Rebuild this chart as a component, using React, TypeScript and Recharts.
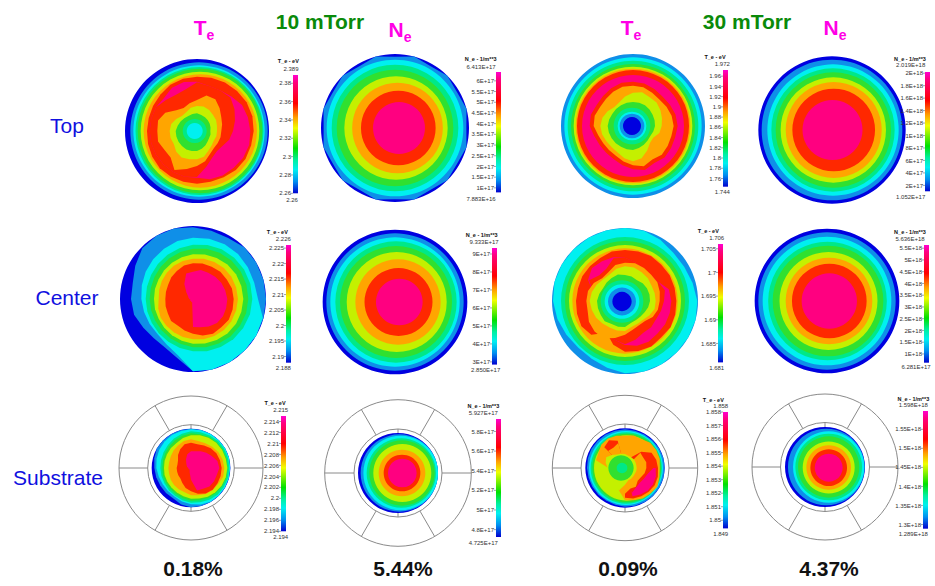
import { BarChart, Bar, XAxis, YAxis, Pie, PieChart, PolarAngleAxis, PolarGrid, PolarRadiusAxis, Radar, RadarChart } from 'recharts';

// contour colours, lowest level first
const LEVELS = ['#0000e0', '#0f8fe8', '#00f0f0', '#00e888', '#30e030', '#c4f000', '#ffa500', '#ff2800', '#ff0080'];
const NAVY = 0, AZURE = 1, CYAN = 2, SPRING = 3, GREEN = 4, LIME = 5, ORANGE = 6, RED = 7, PINK = 8;

const ANGLES = [0, 15, 30, 45, 60, 75, 90, 105, 120, 135, 150, 165, 180, 195, 210, 225, 240, 255, 270, 285, 300, 315, 330, 345];

// Top, 10 mTorr, Te
const topTe10Rings = [216, 206, 197, 192, 187, 178, 170];
const topTe10Red = [163, 165, 168, 170, 172, 172, 170, 168, 168, 165, 160, 158, 158, 158, 158, 158, 155, 152, 150, 150, 152, 155, 160, 162];
const topTe10Pink = [148, 140, 140, 146, 156, 158, 160, 162, 160, 156, 154, 150, 140, 142, 142, 142, 142, 142, 142, 142, 142, 140, 150, 152];
const topTe10Cover = [146, 140, 140, 142, 130, 118, 108, 100, 89, 85, 92, 110, 138, 142, 142, 142, 142, 142, 142, 142, 142, 132, 126, 130];
const topTe10Orange = [93, 110, 110, 96, 84, 78, 73, 73, 72, 72, 79, 94, 105, 118, 135, 112, 113, 121, 119, 121, 110, 88, 80, 86];
const topTe10Lime = [75, 76, 73, 68, 66, 62, 60, 60, 58, 62, 68, 80, 85, 88, 92, 88, 80, 82, 82, 80, 72, 64, 65, 72];
const topTe10Green = [53, 50, 48, 46, 44, 42, 40, 42, 42, 45, 50, 55, 60, 62, 64, 64, 64, 64, 64, 60, 57, 54, 52, 53];
const topTe10Core = [36, 24, 8];

// Top, 10 mTorr, Ne
const topNe10Rings = [222];
const topNe10Edge = [216, 224, 216, 224, 217, 224, 216, 224, 217, 224, 216, 224, 216, 224, 216, 224, 217, 224, 216, 224, 217, 224, 216, 224];
const topNe10Inner = [205, 190, 175, 155, 136, 112, 78];

// Top, 30 mTorr, Te
const topTe30Rings = [216, 206, 196, 186, 178, 172, 168, 153];
const topTe30Red = [133, 132, 128, 125, 128, 132, 134, 131, 132, 134, 128, 137, 130, 122, 115, 114, 115, 120, 130, 131, 126, 127, 131, 134];
const topTe30Orange = [121, 120, 115, 112, 116, 120, 122, 119, 120, 122, 116, 125, 118, 110, 103, 102, 103, 108, 118, 119, 114, 115, 119, 122];
const topTe30Lime = [100, 105, 100, 100, 95, 90, 86, 82, 70, 72, 85, 100, 106, 100, 92, 90, 92, 96, 98, 95, 88, 80, 82, 92];
const topTe30Green = [72, 72, 72, 70, 68, 67, 66, 63, 60, 62, 65, 68, 72, 72, 72, 73, 74, 75, 76, 74, 72, 72, 72, 72];
const topTe30Core = [55, 43, 37, 27];

// Top, 30 mTorr, Ne
const topNe30Rings = [221, 211, 197, 185, 173, 158, 144, 124, 90];

// Center, 10 mTorr, Te
const centerTe10Rings = [219];
const centerTe10Azure = [215, 212, 211, 219, 219, 219, 219, 219, 219, 219, 219, 219, 217, 183, 168, 166, 172, 183, 186, 187, 200, 215, 219, 219];
const centerTe10Cyan = [184, 187, 190, 191, 190, 190, 195, 217, 219, 219, 219, 219, 217, 175, 158, 150, 150, 152, 155, 159, 164, 169, 174, 180];
const centerTe10Spring = [163, 168, 172, 175, 177, 178, 178, 177, 174, 171, 166, 162, 157, 152, 148, 145, 143, 142, 142, 143, 145, 149, 153, 158];
const centerTe10Green = [151, 156, 160, 163, 165, 166, 166, 165, 162, 159, 154, 150, 145, 140, 136, 133, 131, 130, 130, 131, 133, 137, 141, 146];
const centerTe10Lime = [134, 138, 142, 146, 149, 150, 151, 150, 149, 146, 142, 138, 134, 130, 126, 122, 119, 118, 117, 118, 119, 122, 126, 130];
const centerTe10Orange = [121, 125, 128, 131, 133, 134, 135, 134, 133, 131, 128, 125, 121, 118, 115, 113, 112, 108, 103, 105, 108, 111, 115, 118];
const centerTe10Red = [107, 110, 112, 116, 117, 121, 122, 123, 124, 120, 120, 113, 104, 98, 92, 93, 87, 85, 83, 84, 86, 92, 97, 104];
const centerTe10Pink = [82, 90, 91, 94, 98, 100, 103, 103, 104, 102, 95, 88, 84, 10, 10, 8, 10, 8, 11, 14, 17, 28, 52, 79];

// Center, 10 mTorr, Ne
const centerNe10Rings = [217, 206, 194, 182, 168, 150, 128, 102, 70];

// Center, 30 mTorr, Te
const centerTe30Rings = [219];
const centerTe30Cyan = [219, 218, 212, 205, 205, 210, 217, 219, 219, 219, 219, 219, 217, 207, 200, 198, 203, 210, 216, 219, 219, 219, 219, 219];
const centerTe30Bands = [192, 180, 168, 158];
const centerTe30Red = [153, 154, 156, 154, 155, 154, 154, 156, 158, 154, 158, 155, 152, 136, 110, 143, 151, 149, 147, 146, 148, 148, 149, 154];
const centerTe30Pink = [130, 120, 112, 110, 115, 136, 139, 139, 139, 138, 141, 139, 132, 120, 100, 100, 100, 100, 100, 100, 128, 140, 138, 136];
const centerTe30Cover = [130, 120, 112, 110, 115, 124, 117, 112, 108, 111, 110, 120, 130, 120, 100, 100, 100, 100, 100, 100, 124, 109, 112, 133];
const centerTe30Orange = [115, 117, 114, 111, 112, 108, 104, 102, 96, 85, 84, 89, 101, 115, 130, 129, 125, 116, 116, 115, 108, 97, 100, 112];
const centerTe30Lime = [104, 104, 100, 97, 92, 92, 92, 92, 85, 78, 78, 80, 90, 92, 92, 95, 100, 103, 106, 103, 98, 92, 92, 100];
const centerTe30Green = [78, 76, 72, 75, 76, 76, 75, 72, 68, 66, 66, 68, 78, 80, 80, 86, 84, 84, 84, 80, 76, 78, 80, 82];
const centerTe30Core = [64, 52, 42, 29];

// Center, 30 mTorr, Ne
const centerNe30Rings = [217, 206, 193, 178, 166, 147, 130, 112, 83];

// Substrate, 10 mTorr, Te
const subTe10Rings = [118];
const subTe10Azure = [118, 118, 118, 118, 118, 118, 118, 118, 118, 118, 118, 118, 118, 113, 106, 106, 106, 108, 110, 114, 118, 118, 118, 118];
const subTe10Cyan = [116, 117, 118, 118, 118, 118, 117, 117, 117, 117, 117, 113, 109, 104, 99, 98, 98, 100, 104, 107, 110, 112, 114, 115];
const subTe10Spring = [110, 111, 113, 115, 115, 115, 115, 115, 114, 113, 110, 106, 104, 100, 96, 94, 92, 92, 92, 93, 95, 98, 102, 106];
const subTe10Green = [104, 105, 107, 109, 110, 110, 110, 110, 108, 106, 104, 100, 98, 94, 90, 88, 87, 87, 86, 87, 89, 92, 96, 100];
const subTe10Lime = [98, 102, 105, 107, 108, 108, 109, 108, 106, 103, 100, 95, 92, 88, 85, 83, 82, 82, 81, 82, 83, 85, 87, 93];
const subTe10Orange = [86, 84, 86, 90, 95, 98, 100, 100, 95, 93, 90, 85, 82, 75, 74, 72, 70, 68, 68, 68, 70, 74, 78, 84];
const subTe10Red = [76, 74, 78, 84, 88, 90, 92, 92, 92, 92, 88, 80, 70, 62, 52, 45, 44, 43, 43, 42, 45, 55, 65, 74];
const subTe10Pink = [50, 52, 58, 65, 72, 82, 85, 80, 80, 78, 72, 70, 35, 15, 8, 6, 8, 8, 8, 12, 15, 20, 30, 43];

// Substrate, 10 mTorr, Ne
const subNe10Rings = [120, 116, 112, 104, 98, 87, 70, 55, 43];
const subNe10Shift = [0, 1.3, 2.7, 3.3, 4, 4.3, 4, 4, 4.3];

// Substrate, 30 mTorr, Te
const subTe30Rings = [119];
const subTe30Azure = [116, 116, 116, 117, 118, 119, 119, 119, 119, 119, 118, 117, 116, 114, 113, 113, 113, 113, 114, 115, 116, 116, 116, 116];
const subTe30Bands = [111, 107, 103, 98];
const subTe30Orange = [97, 101, 100, 107, 108, 108, 104, 107, 112, 108, 106, 100, 97, 70, 50, 40, 40, 40, 50, 90, 92, 100, 102, 100];
const subTe30Red = [0, 0, 37, 69, 92, 97, 99, 102, 103, 101, 98, 95, 89, 0, 0, 0, 0, 0, 0, 0, 0, 88, 96, 85];
const subTe30Pink = [0, 0, 0, 0, 0, 0, 92, 96, 97, 96, 92, 88, 0, 0, 0, 0, 0, 0, 0, 0, 0, 0, 0, 0];
const subTe30RedInner = [0, 0, 0, 0, 0, 0, 85, 70, 65, 63, 67, 78, 0, 0, 0, 0, 0, 0, 0, 0, 0, 0, 0, 0];
const subTe30OrangeInner = [0, 0, 0, 65, 63, 66, 64, 61, 55, 54, 65, 64, 77, 0, 0, 0, 0, 0, 0, 0, 0, 72, 70, 78];
const subTe30LimeInner = [42, 38, 37, 37, 36, 35, 35, 35, 34, 35, 37, 38, 50, 70, 60, 50, 50, 50, 52, 60, 65, 55, 47, 44];
const subTe30Core = [38, 16];

// Substrate, 30 mTorr, Ne
const subNe30Rings = [120, 115, 107, 100, 92, 78, 67, 55, 42];
const subNe30Shift = [0, 1.3, 3.7, 3.7, 3.7, 3.7, 3.7, 3.7, 3.7];

// colour bar values and tick labels
const te1Ticks = [2.38, 2.36, 2.34, 2.32, 2.3, 2.28, 2.26];
const ne1Ticks = [6, 5.5, 5, 4.5, 4, 3.5, 3, 2.5, 2, 1.5, 1];
const ne1Labels = ['6E+17', '5.5E+17', '5E+17', '4.5E+17', '4E+17', '3.5E+17', '3E+17', '2.5E+17', '2E+17', '1.5E+17', '1E+17'];
const te2Ticks = [1.96, 1.94, 1.92, 1.9, 1.88, 1.86, 1.84, 1.82, 1.8, 1.78, 1.76];
const ne2Ticks = [20, 18, 16, 14, 12, 10, 8, 6, 4, 2];
const ne2Labels = ['2E+18', '1.8E+18', '1.6E+18', '1.4E+18', '1.2E+18', '1E+18', '8E+17', '6E+17', '4E+17', '2E+17'];
const te3Ticks = [2.225, 2.22, 2.215, 2.21, 2.205, 2.2, 2.195, 2.19];
const ne3Ticks = [9, 8, 7, 6, 5, 4, 3];
const ne3Labels = ['9E+17', '8E+17', '7E+17', '6E+17', '5E+17', '4E+17', '3E+17'];
const te4Ticks = [1.705, 1.7, 1.695, 1.69, 1.685];
const ne4Ticks = [5.5, 5, 4.5, 4, 3.5, 3, 2.5, 2, 1.5, 1];
const ne4Labels = ['5.5E+18', '5E+18', '4.5E+18', '4E+18', '3.5E+18', '3E+18', '2.5E+18', '2E+18', '1.5E+18', '1E+18'];
const te5Ticks = [2.214, 2.212, 2.21, 2.208, 2.206, 2.204, 2.202, 2.2, 2.198, 2.196, 2.194];
const ne5Ticks = [5.8, 5.6, 5.4, 5.2, 5, 4.8];
const ne5Labels = ['5.8E+17', '5.6E+17', '5.4E+17', '5.2E+17', '5E+17', '4.8E+17'];
const te6Ticks = [1.858, 1.857, 1.856, 1.855, 1.854, 1.853, 1.852, 1.851, 1.85];
const ne6Ticks = [1.55, 1.5, 1.45, 1.4, 1.35, 1.3];
const ne6Labels = ['1.55E+18', '1.5E+18', '1.45E+18', '1.4E+18', '1.35E+18', '1.3E+18'];

const GRADIENT = [
  ['0%', '#ff00d0'], ['6%', '#ff0080'], ['24%', '#ff0000'], ['36%', '#ffa000'], ['45%', '#f0ff00'],
  ['62%', '#00e000'], ['72%', '#00f0a0'], ['80%', '#00f0f0'], ['90%', '#0090f0'], ['100%', '#0000d0'],
];

const box = (left: number, top: number, width: number, height: number): any => ({ position: 'absolute', left, top, width, height });

type Layer = { rings: number[]; levels: number[]; shiftX?: number[]; shiftY?: number[] } | { contours: number[][]; levels: number[] };

const RingLayer = ({ size, rings, levels, shiftX, shiftY }: any) => (
  <PieChart width={size} height={size} margin={{ top: 0, right: 0, bottom: 0, left: 0 }} style={box(0, 0, size, size)}>
    {rings.map((r: number, i: number) => (
      <Pie
        key={i}
        data={[{ value: 1 }]}
        dataKey="value"
        cx={size / 2 + (shiftX ? shiftX[i] ?? 0 : 0)}
        cy={size / 2 + (shiftY ? shiftY[i] ?? 0 : 0)}
        innerRadius={0}
        outerRadius={r / 3}
        fill={LEVELS[levels[i]]}
        stroke="none"
        isAnimationActive={false}
      />
    ))}
  </PieChart>
);

const ContourLayer = ({ size, radius, contours, levels }: any) => {
  const table = ANGLES.map((angle, i) => {
    const row: any = { angle };
    contours.forEach((c: number[], j: number) => {
      row[`c${j}`] = c[i];
    });
    return row;
  });
  return (
    <RadarChart
      width={size}
      height={size}
      data={table}
      cx={size / 2}
      cy={size / 2}
      outerRadius={radius}
      margin={{ top: 0, right: 0, bottom: 0, left: 0 }}
      style={box(0, 0, size, size)}
    >
      <PolarAngleAxis dataKey="angle" tick={false} axisLine={false} />
      <PolarRadiusAxis domain={[0, radius * 3]} tick={false} axisLine={false} />
      {contours.map((_: number[], j: number) => (
        <Radar
          key={j}
          dataKey={`c${j}`}
          fill={LEVELS[levels[j]]}
          fillOpacity={1}
          stroke="none"
          dot={false}
          isAnimationActive={false}
        />
      ))}
    </RadarChart>
  );
};

// chamber outline behind the substrate discs: two circles, six spokes and the two short ticks
const Chamber = ({ size, inner, outer, disc }: any) => (
  <>
    <RadarChart
      width={size}
      height={size}
      data={[{ a: 0, v: 0 }]}
      cx={size / 2}
      cy={size / 2}
      innerRadius={inner}
      outerRadius={outer}
      margin={{ top: 0, right: 0, bottom: 0, left: 0 }}
      style={box(0, 0, size, size)}
    >
      <PolarGrid gridType="circle" polarRadius={[inner, outer]} polarAngles={[0, 60, 120, 180, 240, 300]} stroke="#8a8a8a" />
    </RadarChart>
    <RadarChart
      width={size}
      height={size}
      data={[{ a: 0, v: 0 }]}
      cx={size / 2}
      cy={size / 2}
      innerRadius={disc}
      outerRadius={inner}
      margin={{ top: 0, right: 0, bottom: 0, left: 0 }}
      style={box(0, 0, size, size)}
    >
      <PolarGrid gridType="circle" polarRadius={[]} polarAngles={[90, 270]} stroke="#8a8a8a" />
    </RadarChart>
  </>
);

const Disc = ({ cx, cy, radius, layers, chamber }: { cx: number; cy: number; radius: number; layers: Layer[]; chamber?: any }) => {
  const size = 2 * Math.ceil(radius + 2);
  return (
    <div style={box(cx - size / 2, cy - size / 2, size, size)}>
      {chamber && <Chamber size={size} {...chamber} />}
      {layers.map((layer: any, i) =>
        layer.rings ? (
          <RingLayer key={i} size={size} {...layer} />
        ) : (
          <ContourLayer key={i} size={size} radius={chamber ? chamber.outer : radius} {...layer} />
        ),
      )}
    </div>
  );
};

const AXIS_W = 55;
const PAD = 6;

const ColorBar = ({ id, x, top, bottom, min, max, ticks, labels, title, maxText, minText, titlePos, maxPos, minPos }: any) => {
  const barW = 5.4;
  const height = bottom - top;
  return (
    <>
      <BarChart
        width={AXIS_W + barW}
        height={height + 2 * PAD}
        data={[{ name: 'scale', span: [min, max] }]}
        margin={{ top: PAD, right: 0, bottom: PAD, left: 0 }}
        barCategoryGap={0}
        style={box(x - AXIS_W, top - PAD, AXIS_W + barW, height + 2 * PAD)}
      >
        <defs>
          <linearGradient id={id} x1="0" y1="0" x2="0" y2="1">
            {GRADIENT.map(([offset, color]) => (
              <stop key={offset} offset={offset} stopColor={color} />
            ))}
          </linearGradient>
        </defs>
        <XAxis dataKey="name" hide />
        <YAxis
          type="number"
          domain={[min, max]}
          ticks={ticks}
          interval={0}
          width={AXIS_W}
          axisLine={false}
          tickSize={2}
          tickMargin={0}
          tick={{ fontSize: 6, fill: '#333', fontFamily: 'Liberation Sans' }}
          tickLine={{ stroke: '#444', strokeWidth: 0.5 }}
          tickFormatter={labels ? (v: number) => labels[ticks.indexOf(v)] : (v: number) => String(v)}
        />
        <Bar dataKey="span" fill={`url(#${id})`} isAnimationActive={false} />
      </BarChart>
      <Label x={titlePos[0]} y={titlePos[1]} size={5.5} color="#111" bold>{title}</Label>
      <Label x={maxPos[0]} y={maxPos[1]} size={6} color="#333">{maxText}</Label>
      <Label x={minPos[0]} y={minPos[1]} size={6} color="#333">{minText}</Label>
    </>
  );
};

const Label = ({ x, y, size, color, bold, children }: any) => (
  <div
    style={{
      position: 'absolute',
      left: x,
      top: y,
      transform: 'translate(-50%, -50%)',
      fontFamily: 'Liberation Sans',
      fontSize: size,
      fontWeight: bold ? 700 : 400,
      color,
      whiteSpace: 'nowrap',
      lineHeight: 1,
    }}
  >
    {children}
  </div>
);

const Species = ({ x, y, name }: { x: number; y: number; name: string }) => (
  <Label x={x} y={y} size={21} color="#ff00e6" bold>
    {name}
    <span style={{ fontSize: 14, verticalAlign: -5 }}>e</span>
  </Label>
);

const ramp = [NAVY, AZURE, CYAN, SPRING, GREEN, LIME, ORANGE, RED, PINK];

export default function App() {
  return (
    <div style={{ position: 'absolute', left: 0, top: 0, width: 935, height: 586, background: '#fff', overflow: 'hidden' }}>
      <Species x={204} y={29} name="T" />
      <Label x={320} y={21} size={21} color="#0a8a0a" bold>10 mTorr</Label>
      <Species x={400} y={31} name="N" />
      <Species x={631} y={29} name="T" />
      <Label x={747} y={21} size={21} color="#0a8a0a" bold>30 mTorr</Label>
      <Species x={835} y={29} name="N" />

      <Label x={67} y={125} size={21} color="#1010e0">Top</Label>
      <Label x={67} y={297} size={21} color="#1010e0">Center</Label>
      <Label x={58} y={477} size={21} color="#1010e0">Substrate</Label>

      <Label x={193} y={568} size={21} color="#111" bold>0.18%</Label>
      <Label x={403} y={568} size={21} color="#111" bold>5.44%</Label>
      <Label x={628} y={568} size={21} color="#111" bold>0.09%</Label>
      <Label x={829} y={568} size={21} color="#111" bold>4.37%</Label>

      <Disc
        cx={197.3}
        cy={131}
        radius={72}
        layers={[
          { rings: topTe10Rings, levels: [NAVY, AZURE, CYAN, SPRING, GREEN, LIME, ORANGE], shiftX: [0, 2, 2, 2.5, 3, 3, 3.3] },
          {
            contours: [topTe10Red, topTe10Pink, topTe10Cover, topTe10Orange, topTe10Lime, topTe10Green],
            levels: [RED, PINK, RED, ORANGE, LIME, GREEN],
          },
          { rings: topTe10Core, levels: [SPRING, CYAN, AZURE], shiftX: [-2.3, -2.3, -2.3] },
        ]}
      />
      <Disc
        cx={395}
        cy={127.8}
        radius={74}
        layers={[
          { rings: topNe10Rings, levels: [NAVY] },
          { contours: [topNe10Edge], levels: [AZURE] },
          { rings: topNe10Inner, levels: [CYAN, SPRING, GREEN, LIME, ORANGE, RED, PINK], shiftX: [0, 0, 0, 1, 2.5, 3.3, 4] },
        ]}
      />
      <Disc
        cx={632.8}
        cy={126.3}
        radius={72}
        layers={[
          { rings: topTe30Rings, levels: [AZURE, CYAN, SPRING, GREEN, LIME, ORANGE, RED, PINK] },
          { contours: [topTe30Red, topTe30Orange, topTe30Lime, topTe30Green], levels: [RED, ORANGE, LIME, GREEN] },
          { rings: topTe30Core, levels: [SPRING, CYAN, AZURE, NAVY], shiftX: [-1, -1, -1, -1] },
        ]}
      />
      <Disc
        cx={832}
        cy={129.5}
        radius={73.7}
        layers={[{ rings: topNe30Rings, levels: ramp, shiftX: [0, 0, 1, 1, 1.3, 1.3, 1.7, 1.7, 0.5] }]}
      />

      <Disc
        cx={192.7}
        cy={298.7}
        radius={73}
        layers={[
          { rings: centerTe10Rings, levels: [NAVY] },
          {
            contours: [centerTe10Azure, centerTe10Cyan, centerTe10Spring, centerTe10Green, centerTe10Lime, centerTe10Orange, centerTe10Red, centerTe10Pink],
            levels: [AZURE, CYAN, SPRING, GREEN, LIME, ORANGE, RED, PINK],
          },
        ]}
      />
      <Disc
        cx={394.5}
        cy={301.7}
        radius={72}
        layers={[{ rings: centerNe10Rings, levels: ramp, shiftX: [0, 0, 0, 1, 1, 1.7, 3, 3.5, 4.3] }]}
      />
      <Disc
        cx={625.3}
        cy={301.2}
        radius={73}
        layers={[
          { rings: centerTe30Rings, levels: [AZURE] },
          { contours: [centerTe30Cyan], levels: [CYAN] },
          { rings: centerTe30Bands, levels: [SPRING, GREEN, LIME, ORANGE] },
          {
            contours: [centerTe30Red, centerTe30Pink, centerTe30Cover, centerTe30Orange, centerTe30Lime, centerTe30Green],
            levels: [RED, PINK, RED, ORANGE, LIME, GREEN],
          },
          { rings: centerTe30Core, levels: [SPRING, CYAN, AZURE, NAVY], shiftX: [-3, -3, -3, -3], shiftY: [0.5, 0.5, 0.5, 0.5] },
        ]}
      />
      <Disc
        cx={826.7}
        cy={300.5}
        radius={72.3}
        layers={[{ rings: centerNe30Rings, levels: ramp, shiftX: [0, 0, 0, 0.5, 1, 1.5, 2, 2.3, 2.3] }]}
      />

      <Disc
        cx={191}
        cy={468.3}
        radius={72}
        chamber={{ inner: 43.3, outer: 72, disc: 39 }}
        layers={[
          { rings: subTe10Rings, levels: [NAVY] },
          {
            contours: [subTe10Azure, subTe10Cyan, subTe10Spring, subTe10Green, subTe10Lime, subTe10Orange, subTe10Red, subTe10Pink],
            levels: [AZURE, CYAN, SPRING, GREEN, LIME, ORANGE, RED, PINK],
          },
        ]}
      />
      <Disc
        cx={397.7}
        cy={473.3}
        radius={73.3}
        chamber={{ inner: 44, outer: 73.3, disc: 40 }}
        layers={[{ rings: subNe10Rings, levels: ramp, shiftX: subNe10Shift }]}
      />
      <Disc
        cx={625}
        cy={467.5}
        radius={72.7}
        chamber={{ inner: 44, outer: 72.7, disc: 39.7 }}
        layers={[
          { rings: subTe30Rings, levels: [NAVY] },
          { contours: [subTe30Azure], levels: [AZURE] },
          { rings: subTe30Bands, levels: [CYAN, SPRING, GREEN, LIME], shiftX: [1, 1.3, 1.7, 1.7] },
          {
            contours: [subTe30Orange, subTe30Red, subTe30Pink, subTe30RedInner, subTe30OrangeInner, subTe30LimeInner],
            levels: [ORANGE, RED, PINK, RED, ORANGE, LIME],
          },
          { rings: subTe30Core, levels: [GREEN, SPRING], shiftX: [-4, -3] },
        ]}
      />
      <Disc
        cx={825.3}
        cy={466.7}
        radius={73}
        chamber={{ inner: 44.5, outer: 73, disc: 40 }}
        layers={[{ rings: subNe30Rings, levels: ramp, shiftX: subNe30Shift, shiftY: [0, 0, 0, 0, 0, 0.5, 0.5, 0.7, 0.7] }]}
      />

      <ColorBar id="bar1" x={292.7} top={75} bottom={193.3} min={2.26} max={2.389} ticks={te1Ticks}
        title="T_e - eV" maxText="2.389" minText="2.26" titlePos={[288.3, 62.3]} maxPos={[291, 69]} minPos={[292, 200]} />
      <ColorBar id="bar2" x={495.7} top={72.3} bottom={192.7} min={0.7883} max={6.413} ticks={ne1Ticks} labels={ne1Labels}
        title="N_e - 1/m**3" maxText="6.413E+17" minText="7.883E+16" titlePos={[480.7, 60.3]} maxPos={[481, 66.7]} minPos={[481, 198.7]} />
      <ColorBar id="bar3" x={723.3} top={70} bottom={186.7} min={1.744} max={1.972} ticks={te2Ticks}
        title="T_e - eV" maxText="1.972" minText="1.744" titlePos={[715, 57.7]} maxPos={[722.3, 64.3]} minPos={[722.3, 191.7]} />
      <ColorBar id="bar4" x={925} top={71.7} bottom={191} min={1.052} max={20.19} ticks={ne2Ticks} labels={ne2Labels}
        title="N_e - 1/m**3" maxText="2.019E+18" minText="1.052E+17" titlePos={[910, 59.7]} maxPos={[910.7, 65]} minPos={[910.7, 196.7]} />

      <ColorBar id="bar5" x={285.7} top={245} bottom={362.7} min={2.188} max={2.226} ticks={te3Ticks}
        title="T_e - eV" maxText="2.226" minText="2.188" titlePos={[277.3, 232.7]} maxPos={[283.3, 239]} minPos={[283.3, 368.3]} />
      <ColorBar id="bar6" x={491.7} top={247.7} bottom={364.3} min={2.85} max={9.333} ticks={ne3Ticks} labels={ne3Labels}
        title="N_e - 1/m**3" maxText="9.333E+17" minText="2.850E+17" titlePos={[481.7, 235.7]} maxPos={[484, 241.7]} minPos={[485.7, 370]} />
      <ColorBar id="bar7" x={717.7} top={244.3} bottom={362.7} min={1.681} max={1.706} ticks={te4Ticks}
        title="T_e - eV" maxText="1.706" minText="1.681" titlePos={[708.3, 231.7]} maxPos={[716.7, 237.7]} minPos={[716.7, 368]} />
      <ColorBar id="bar8" x={924.3} top={245} bottom={362.7} min={0.6281} max={5.636} ticks={ne4Ticks} labels={ne4Labels}
        title="N_e - 1/m**3" maxText="5.636E+18" minText="6.281E+17" titlePos={[910, 233.3]} maxPos={[910, 239.3]} minPos={[916, 367.3]} />

      <ColorBar id="bar9" x={281.3} top={416} bottom={531.3} min={2.194} max={2.215} ticks={te5Ticks}
        title="T_e - eV" maxText="2.215" minText="2.194" titlePos={[275, 404.3]} maxPos={[280.7, 410]} minPos={[280.7, 536.7]} />
      <ColorBar id="bar10" x={496} top={419.3} bottom={537.3} min={4.725} max={5.927} ticks={ne5Ticks} labels={ne5Labels}
        title="N_e - 1/m**3" maxText="5.927E+17" minText="4.725E+17" titlePos={[483.3, 406.7]} maxPos={[483.3, 412.7]} minPos={[483.3, 542.7]} />
      <ColorBar id="bar11" x={722.7} top={412.3} bottom={528.7} min={1.8494} max={1.858} ticks={te6Ticks}
        title="T_e - eV" maxText="1.858" minText="1.849" titlePos={[713.3, 400.7]} maxPos={[720.7, 406]} minPos={[720.7, 534.3]} />
      <ColorBar id="bar12" x={923.3} top={411} bottom={528.7} min={1.289} max={1.598} ticks={ne6Ticks} labels={ne6Labels}
        title="N_e - 1/m**3" maxText="1.598E+18" minText="1.289E+18" titlePos={[913.3, 399.7]} maxPos={[913.3, 405.3]} minPos={[913.3, 534]} />
    </div>
  );
}
